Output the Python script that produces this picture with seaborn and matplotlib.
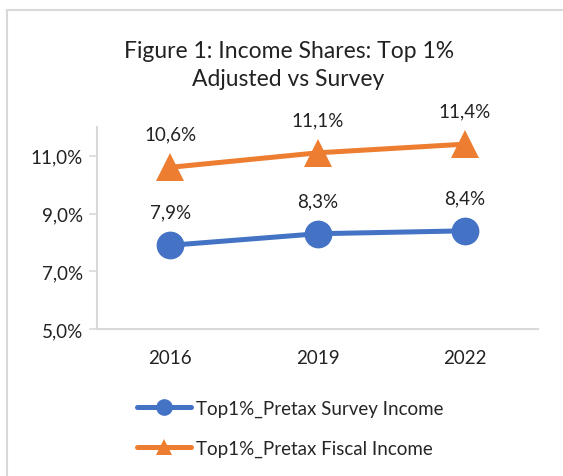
import pandas as pd
import seaborn as sns
import matplotlib.pyplot as plt
from matplotlib.lines import Line2D

years = ['2016', '2019', '2022']
survey = [7.9, 8.3, 8.4]
fiscal = [10.6, 11.1, 11.4]
series_names = ['Top1%_Pretax Survey Income', 'Top1%_Pretax Fiscal Income']
colors = ['#4472C4', '#ED7D31']
markers = ['o', '^']

df = pd.DataFrame({
    'year': years * 2,
    'value': survey + fiscal,
    'series': [series_names[0]] * 3 + [series_names[1]] * 3,
})

sns.set_style('white')
plt.rcParams['font.family'] = ['Lato', 'DejaVu Sans']

fig = plt.figure(figsize=(5.63, 4.77), dpi=100)
ax = fig.add_axes([0.172, 0.308, 0.784, 0.424])

for name, col, mk in zip(series_names, colors, markers):
    sub = df[df['series'] == name]
    sns.lineplot(data=sub, x='year', y='value', ax=ax, color=col, marker=mk,
                 markersize=20, linewidth=3.6, markeredgewidth=0, legend=False)
    for x, v in zip(sub['year'], sub['value']):
        ax.annotate(f"{v:.1f}%".replace('.', ','), (x, v), xytext=(0, 24),
                    textcoords='offset points', ha='center', va='center',
                    fontsize=13.5, color='#222222')

ax.set_xlim(-0.5, 2.5)
ax.set_ylim(5, 12)
ax.set_yticks([5, 7, 9, 11])
ax.set_yticklabels([f"{t:.1f}%".replace('.', ',') for t in [5, 7, 9, 11]])
ax.set_xlabel('')
ax.set_ylabel('')
for s in ['top', 'right']:
    ax.spines[s].set_visible(False)
for s in ['left', 'bottom']:
    ax.spines[s].set_color('#D9D9D9')
    ax.spines[s].set_linewidth(1.5)
ax.tick_params(axis='y', length=6, width=1.2, color='#D9D9D9', labelsize=13.5,
               labelcolor='#222222', pad=4, left=True)
ax.tick_params(axis='x', length=0, labelsize=13.5, labelcolor='#222222', pad=14)

fig.text(0.513, 0.893, 'Figure 1: Income Shares: Top 1%', ha='center',
         va='center', fontsize=16.5, color='#222222')
fig.text(0.511, 0.833, 'Adjusted vs Survey', ha='center',
         va='center', fontsize=16.5, color='#222222')

handles = [Line2D([0], [0], color=c, marker=m, markersize=12, linewidth=3.6,
                  markeredgewidth=0) for c, m in zip(colors, markers)]
fig.legend(handles, series_names, loc='center', bbox_to_anchor=(0.515, 0.1),
           frameon=False, fontsize=13.5, handlelength=2.9, labelspacing=1.2,
           handletextpad=0.25)

# outer chart frame
fig.add_artist(Line2D([0.013, 0.013], [0, 0.977], color='#D9D9D9', lw=1.5))
fig.add_artist(Line2D([0.013, 1], [0.977, 0.977], color='#D9D9D9', lw=1.5))

fig.savefig('out.png', dpi=100)
